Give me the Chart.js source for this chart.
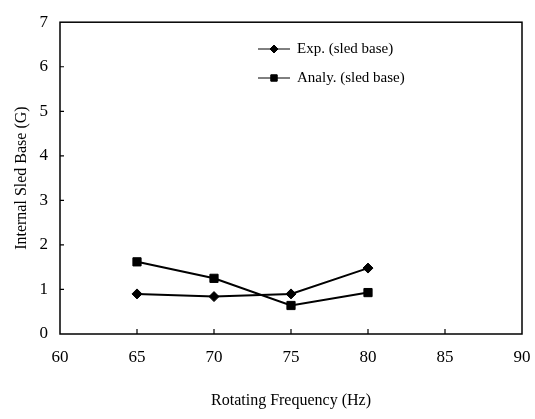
<!DOCTYPE html>
<html>
<head>
<meta charset="utf-8">
<script src="https://cdn.jsdelivr.net/npm/chart.js@4.4.0/dist/chart.umd.min.js"></script>
<style>
    html, body { margin: 0; padding: 0; background: #fff; }
</style>
</head>
<body>
<canvas id="diagram" width="535" height="419"></canvas>
<script>
let frequencies = [65, 70, 75, 80];
let expValues = [0.90, 0.84, 0.90, 1.48];
let analyValues = [1.62, 1.25, 0.64, 0.93];
let seriesNames = ['Exp. (sled base)', 'Analy. (sled base)'];
let xTicks = [60, 65, 70, 75, 80, 85, 90];
let yTicks = [0, 1, 2, 3, 4, 5, 6, 7];

const serif = "'Liberation Serif', 'DejaVu Serif', serif";

function toPoints(values) {
    return frequencies.map((f, i) => ({ x: f, y: values[i] }));
}

// frame, inward ticks and the legend box
let framePlugin = {
    id: 'frame',
    afterDraw: (chart) => {
        let ctx = chart.ctx;
        let area = chart.chartArea;
        let xs = chart.scales.x;
        let ys = chart.scales.y;

        ctx.save();
        ctx.strokeStyle = '#000';
        ctx.lineWidth = 1.5;
        ctx.strokeRect(area.left, area.top, area.right - area.left, area.bottom - area.top);

        ctx.lineWidth = 1.2;
        ctx.beginPath();
        xTicks.slice(1, -1).forEach(v => {
            let px = xs.getPixelForValue(v);
            ctx.moveTo(px, area.bottom);
            ctx.lineTo(px, area.bottom - 5);
        });
        yTicks.slice(1, -1).forEach(v => {
            let py = ys.getPixelForValue(v);
            ctx.moveTo(area.left, py);
            ctx.lineTo(area.left + 4, py);
        });
        ctx.stroke();

        // legend
        let styles = ['rectRot', 'rect'];
        let radii = [4, 4.5];
        let rows = [49, 78];
        ctx.font = "15px " + serif;
        ctx.textBaseline = 'middle';
        ctx.fillStyle = '#000';
        seriesNames.forEach((name, i) => {
            let y = rows[i];
            ctx.lineWidth = 1;
            ctx.beginPath();
            ctx.moveTo(258, y);
            ctx.lineTo(290, y);
            ctx.stroke();
            Chart.helpers.drawPoint(ctx, { pointStyle: styles[i], radius: radii[i], rotation: 0, borderWidth: 1 }, 274, y);
            ctx.fill();
            ctx.fillText(name, 297, y);
        });
        ctx.restore();
    }
};

new Chart(document.getElementById('diagram'), {
    type: 'line',
    data: {
        datasets: [
            {
                label: seriesNames[0],
                data: toPoints(expValues),
                borderColor: '#000',
                backgroundColor: '#000',
                borderWidth: 2,
                pointStyle: 'rectRot',
                pointRadius: 5,
                pointBorderWidth: 1,
                tension: 0
            },
            {
                label: seriesNames[1],
                data: toPoints(analyValues),
                borderColor: '#000',
                backgroundColor: '#000',
                borderWidth: 2,
                pointStyle: 'rect',
                pointRadius: 5.8,
                pointBorderWidth: 1,
                tension: 0
            }
        ]
    },
    options: {
        responsive: false,
        animation: false,
        layout: { padding: { left: 0, right: 13, top: 19, bottom: 0 } },
        plugins: {
            legend: { display: false },
            tooltip: { enabled: false }
        },
        scales: {
            x: {
                type: 'linear',
                min: 60,
                max: 90,
                afterBuildTicks: (scale) => { scale.ticks = xTicks.map(v => ({ value: v })); },
                afterFit: (scale) => {
                    scale.height = 85;
                    scale.paddingRight = 0;
                    scale.paddingLeft = 0;
                },
                grid: { display: false, drawTicks: false },
                border: { display: false },
                ticks: {
                    color: '#000',
                    padding: 13,
                    maxRotation: 0,
                    font: { family: serif, size: 17 }
                },
                title: {
                    display: true,
                    text: 'Rotating Frequency (Hz)',
                    color: '#000',
                    font: { family: serif, size: 16 },
                    padding: { top: 0, bottom: 9 }
                }
            },
            y: {
                type: 'linear',
                min: 0,
                max: 7,
                afterBuildTicks: (scale) => { scale.ticks = yTicks.map(v => ({ value: v })); },
                afterFit: (scale) => { scale.width = 60; },
                grid: { display: false, drawTicks: false },
                border: { display: false },
                ticks: {
                    color: '#000',
                    padding: 12,
                    font: { family: serif, size: 17 }
                },
                title: {
                    display: true,
                    text: 'Internal Sled Base (G)',
                    color: '#000',
                    font: { family: serif, size: 16 },
                    padding: { top: 12, bottom: 0 }
                }
            }
        }
    },
    plugins: [framePlugin]
});
</script>
</body>
</html>
